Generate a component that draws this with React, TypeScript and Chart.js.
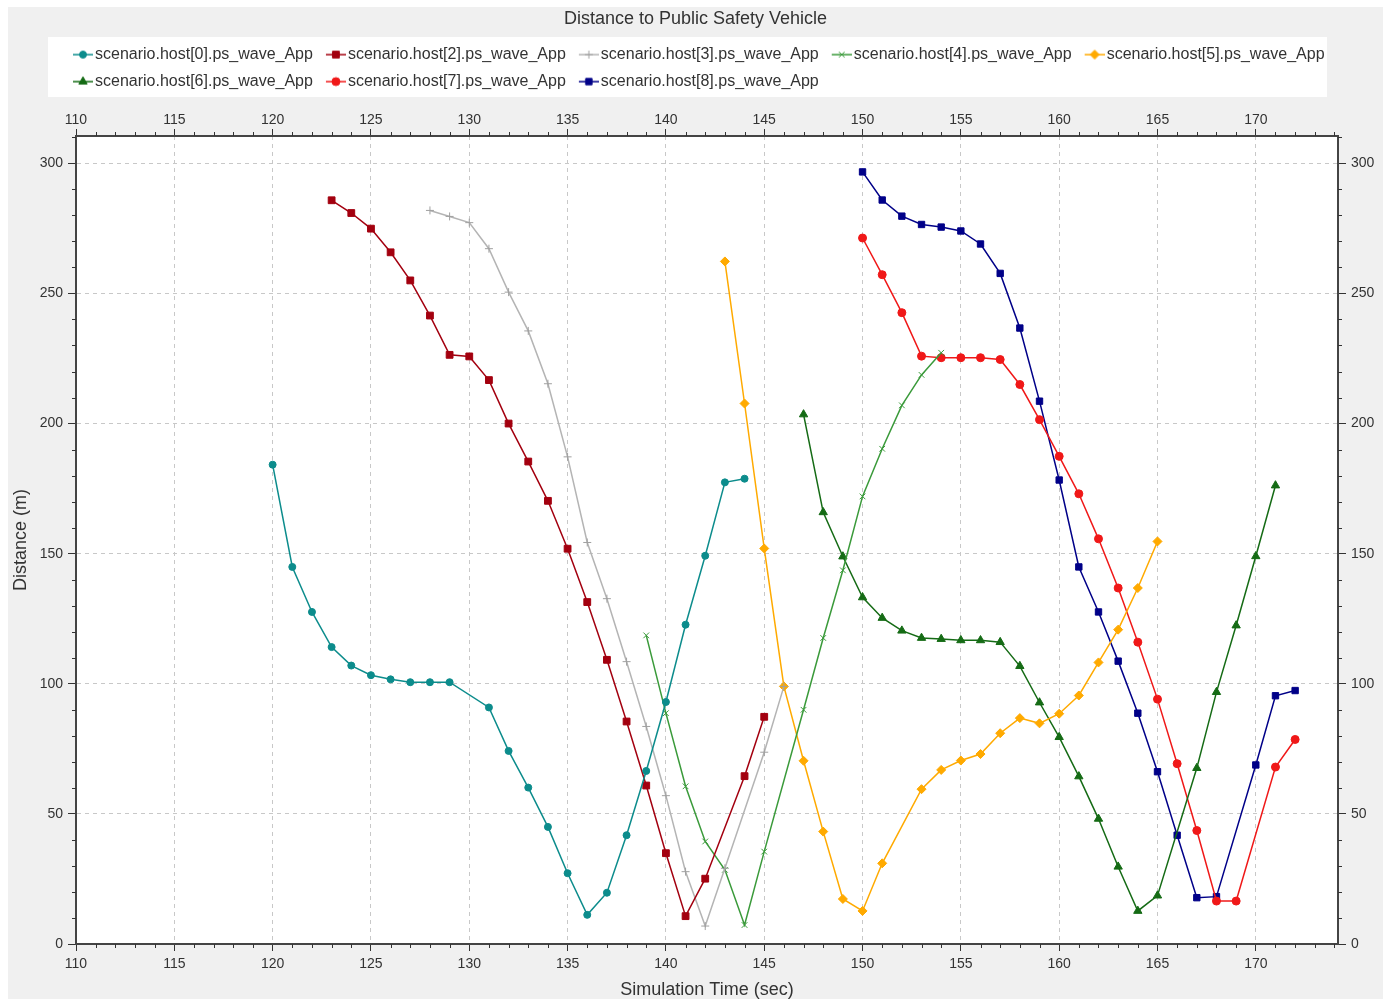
import React, { useEffect, useRef } from 'react';
import { Chart, registerables } from 'chart.js';
import { drawPoint } from 'chart.js/helpers';

Chart.register(...registerables);

const FONT = "'Liberation Sans', Arial, Helvetica, sans-serif";

const TITLE = 'Distance to Public Safety Vehicle';
const X_TITLE = 'Simulation Time (sec)';
const Y_TITLE = 'Distance (m)';

const X_MIN = 110;
const X_MAX = 174.18;
const X_STEP = 5;
const Y_MIN = 0;
const Y_MAX = 310.5;
const Y_STEP = 50;

const seriesLabels = [
  'scenario.host[0].ps_wave_App',
  'scenario.host[2].ps_wave_App',
  'scenario.host[3].ps_wave_App',
  'scenario.host[4].ps_wave_App',
  'scenario.host[5].ps_wave_App',
  'scenario.host[6].ps_wave_App',
  'scenario.host[7].ps_wave_App',
  'scenario.host[8].ps_wave_App',
];

const host0Times = [120, 121, 122, 123, 124, 125, 126, 127, 128, 129, 131, 132, 133, 134, 135, 136, 137, 138, 139, 140, 141, 142, 143, 144];
const host0Values = [184.2, 144.9, 127.6, 114.1, 107.0, 103.3, 101.7, 100.6, 100.6, 100.6, 90.9, 74.2, 60.1, 45.0, 27.2, 11.2, 19.7, 41.8, 66.5, 93.0, 122.7, 149.2, 177.4, 178.8];

const host2Times = [123, 124, 125, 126, 127, 128, 129, 130, 131, 132, 133, 134, 135, 136, 137, 138, 139, 140, 141, 142, 144, 145];
const host2Values = [285.8, 280.9, 274.9, 265.8, 255.0, 241.5, 226.4, 225.8, 216.7, 200.0, 185.4, 170.3, 151.9, 131.4, 109.2, 85.5, 60.9, 34.9, 10.7, 25.1, 64.5, 87.3];

const host3Times = [128, 129, 130, 131, 132, 133, 134, 135, 136, 137, 138, 139, 140, 141, 142, 143, 145, 146];
const host3Values = [281.9, 279.6, 277.2, 267.2, 250.5, 235.6, 215.3, 187.2, 154.3, 132.7, 108.5, 83.6, 57.0, 27.8, 6.9, 29.1, 73.7, 99.0];

const host4Times = [139, 140, 141, 142, 143, 144, 145, 147, 148, 149, 150, 151, 152, 153, 154];
const host4Values = [118.6, 88.7, 60.6, 39.4, 28.5, 7.3, 35.5, 90.0, 117.6, 143.6, 172.0, 190.3, 207.0, 218.7, 227.2];

const host5Times = [143, 144, 145, 146, 147, 148, 149, 150, 151, 153, 154, 155, 156, 157, 158, 159, 160, 161, 162, 163, 164, 165];
const host5Values = [262.3, 207.7, 152.0, 99.0, 70.4, 43.2, 17.3, 12.7, 31.0, 59.5, 66.9, 70.5, 73.0, 81.0, 86.8, 84.8, 88.5, 95.5, 108.2, 120.8, 136.8, 154.7];

const host6Times = [147, 148, 149, 150, 151, 152, 153, 154, 155, 156, 157, 158, 159, 160, 161, 162, 163, 164, 165, 167, 168, 169, 170, 171];
const host6Values = [203.5, 165.9, 148.9, 133.2, 125.3, 120.4, 117.6, 117.2, 116.7, 116.7, 116.0, 106.8, 92.8, 79.5, 64.4, 48.1, 29.7, 12.7, 18.6, 67.6, 96.8, 122.4, 149.0, 176.2];

const host7Times = [150, 151, 152, 153, 154, 155, 156, 157, 158, 159, 160, 161, 162, 163, 164, 165, 166, 167, 168, 169, 171, 172];
const host7Values = [271.3, 257.2, 242.6, 225.9, 225.3, 225.3, 225.3, 224.6, 215.0, 201.5, 187.4, 173.0, 155.7, 136.8, 116.0, 94.1, 69.3, 43.6, 16.5, 16.5, 68.0, 78.6];

const host8Times = [150, 151, 152, 153, 154, 155, 156, 157, 158, 159, 160, 161, 162, 163, 164, 165, 166, 167, 168, 170, 171, 172];
const host8Values = [296.7, 285.9, 279.7, 276.5, 275.5, 274.0, 269.0, 257.7, 236.7, 208.6, 178.3, 144.9, 127.6, 108.7, 88.7, 66.2, 41.8, 17.8, 18.2, 68.8, 95.4, 97.4];

const seriesTimes = [host0Times, host2Times, host3Times, host4Times, host5Times, host6Times, host7Times, host8Times];
const seriesValues = [host0Values, host2Values, host3Values, host4Values, host5Values, host6Values, host7Values, host8Values];

const seriesColors = ['#0c8c8c', '#a3000f', '#b4b4b4', '#3a9a3a', '#ffaa00', '#156b15', '#f01818', '#000088'];
const seriesMarkerColors = ['#0c8c8c', '#a3000f', '#a0a0a0', '#3a9a3a', '#ffaa00', '#156b15', '#f01818', '#000088'];
const seriesPointStyles = ['circle', 'rect', 'cross', 'crossRot', 'rectRot', 'triangle', 'circle', 'rect'];
const seriesPointRadii = [3.5, 4.8, 4, 4, 4.5, 4.8, 4, 4.5];

// legend icon: transparent pad on the left, then a 20px line with the marker in its middle
const ICON_PAD = 8;
function makeLegendIcon(i: number): HTMLCanvasElement {
  const c = document.createElement('canvas');
  c.width = 20 + ICON_PAD;
  c.height = 12;
  const ctx = c.getContext('2d')!;
  ctx.strokeStyle = seriesColors[i];
  ctx.lineWidth = 1.5;
  ctx.beginPath();
  ctx.moveTo(ICON_PAD, 6);
  ctx.lineTo(ICON_PAD + 20, 6);
  ctx.stroke();
  ctx.fillStyle = seriesMarkerColors[i];
  ctx.strokeStyle = seriesMarkerColors[i];
  ctx.lineWidth = 1;
  drawPoint(ctx, { pointStyle: seriesPointStyles[i] as any, radius: seriesPointRadii[i], rotation: 0, borderWidth: 1 }, ICON_PAD + 10, 6);
  return c;
}

const backgroundPlugin = {
  id: 'panelBackground',
  beforeDraw(chart: any) {
    const { ctx, chartArea } = chart;
    ctx.save();
    ctx.fillStyle = '#ffffff';
    ctx.fillRect(chartArea.left, chartArea.top, chartArea.right - chartArea.left, chartArea.bottom - chartArea.top);
    ctx.fillRect(40, 30, 1279, 60);
    ctx.restore();
    if (chart.legend) {
      chart.legend.left = 52;
    }
  },
};

const minorTickPlugin = {
  id: 'minorTicks',
  afterDraw(chart: any) {
    const { ctx, chartArea } = chart;
    const xs = chart.scales.x;
    const ys = chart.scales.y;
    ctx.save();
    ctx.strokeStyle = '#333333';
    ctx.lineWidth = 1;
    ctx.beginPath();
    for (let v = Math.ceil(X_MIN); v <= X_MAX; v++) {
      if (v % X_STEP === 0) continue;
      const px = Math.round(xs.getPixelForValue(v)) + 0.5;
      ctx.moveTo(px, chartArea.bottom);
      ctx.lineTo(px, chartArea.bottom + 4);
      ctx.moveTo(px, chartArea.top);
      ctx.lineTo(px, chartArea.top - 4);
    }
    for (let v = 10; v <= Y_MAX; v += 10) {
      if (v % Y_STEP === 0) continue;
      const py = Math.round(ys.getPixelForValue(v)) + 0.5;
      ctx.moveTo(chartArea.left - 4, py);
      ctx.lineTo(chartArea.left, py);
      ctx.moveTo(chartArea.right, py);
      ctx.lineTo(chartArea.right + 4, py);
    }
    ctx.stroke();
    ctx.restore();
  },
};

export default function App() {
  const canvasRef = useRef<HTMLCanvasElement | null>(null);

  useEffect(() => {
    if (!canvasRef.current) return;
    Chart.defaults.font.family = FONT;
    const icons = seriesLabels.map((_, i) => makeLegendIcon(i));

    const datasets = seriesLabels.map((label, i) => ({
      label,
      data: seriesTimes[i].map((t, j) => ({ x: t, y: seriesValues[i][j] })),
      borderColor: seriesColors[i],
      backgroundColor: seriesMarkerColors[i],
      pointBackgroundColor: seriesMarkerColors[i],
      pointBorderColor: seriesMarkerColors[i],
      pointStyle: seriesPointStyles[i] as any,
      pointRadius: seriesPointRadii[i],
      pointBorderWidth: 1,
      borderWidth: 1.5,
      tension: 0,
      fill: false,
      xAxisID: 'x',
      yAxisID: 'y',
    }));

    const tickFont = { size: 14, family: FONT };
    const titleFont = { size: 18, family: FONT, lineHeight: 1 };

    const chart = new Chart(canvasRef.current, {
      type: 'line',
      data: { datasets },
      plugins: [backgroundPlugin, minorTickPlugin],
      options: {
        responsive: false,
        animation: false,
        devicePixelRatio: 1,
        layout: { padding: 0 },
        plugins: {
          tooltip: { enabled: false },
          title: {
            display: true,
            text: TITLE,
            color: '#333333',
            font: { size: 18, family: FONT, weight: 'normal' },
            padding: { top: 1, bottom: 6 },
          },
          legend: {
            display: true,
            position: 'top',
            align: 'start',
            labels: {
              usePointStyle: true,
              pointStyleWidth: 16,
              padding: 11,
              color: '#333333',
              font: { size: 16, family: FONT },
              generateLabels: () =>
                seriesLabels.map((text, i) => ({
                  text,
                  fillStyle: seriesMarkerColors[i],
                  strokeStyle: seriesColors[i],
                  lineWidth: 0,
                  pointStyle: icons[i] as any,
                  hidden: false,
                  datasetIndex: i,
                  fontColor: '#333333',
                })),
            },
          },
        },
        scales: {
          x: {
            type: 'linear',
            position: 'bottom',
            min: X_MIN,
            max: X_MAX,
            ticks: { stepSize: X_STEP, includeBounds: false, color: '#333333', font: tickFont, padding: 5, maxRotation: 0, autoSkip: false },
            grid: { color: '#c8c8c8', lineWidth: 1, tickColor: '#333333', tickLength: 7, tickWidth: 1, tickBorderDash: [] },
            border: { display: true, color: '#444444', width: 2, dash: [4, 4] },
            title: { display: true, text: X_TITLE, color: '#333333', font: titleFont, padding: { top: 0, bottom: 0 } },
            afterFit: (s: any) => { s.height = 55; },
          },
          xTop: {
            type: 'linear',
            position: 'top',
            min: X_MIN,
            max: X_MAX,
            ticks: { stepSize: X_STEP, includeBounds: false, color: '#333333', font: tickFont, padding: 0, maxRotation: 0, autoSkip: false },
            grid: { drawOnChartArea: false, tickColor: '#333333', tickLength: 7, tickWidth: 1, tickBorderDash: [] },
            border: { display: true, color: '#444444', width: 2 },
            afterFit: (s: any) => { s.height = 36.4; },
          },
          y: {
            type: 'linear',
            position: 'left',
            min: Y_MIN,
            max: Y_MAX,
            ticks: { stepSize: Y_STEP, includeBounds: false, color: '#333333', font: tickFont, padding: 5 },
            grid: { color: '#c8c8c8', lineWidth: 1, tickColor: '#333333', tickLength: 8, tickWidth: 1, tickBorderDash: [] },
            border: { display: true, color: '#444444', width: 2, dash: [4, 4] },
            title: { display: true, text: Y_TITLE, color: '#333333', font: titleFont, padding: { top: 4, bottom: 0 } },
            afterFit: (s: any) => { s.width = 68; },
          },
          yRight: {
            type: 'linear',
            position: 'right',
            min: Y_MIN,
            max: Y_MAX,
            ticks: { stepSize: Y_STEP, includeBounds: false, color: '#333333', font: tickFont, padding: 5 },
            grid: { drawOnChartArea: false, tickColor: '#333333', tickLength: 8, tickWidth: 1, tickBorderDash: [] },
            border: { display: true, color: '#444444', width: 2 },
            afterFit: (s: any) => { s.width = 45; },
          },
        },
      } as any,
    });

    return () => chart.destroy();
  }, []);

  return (
    <div style={{ position: 'absolute', left: 8, top: 7, width: 1375, height: 992, background: '#f0f0f0' }}>
      <canvas ref={canvasRef} width={1375} height={992} style={{ width: 1375, height: 992, display: 'block' }} />
    </div>
  );
}
